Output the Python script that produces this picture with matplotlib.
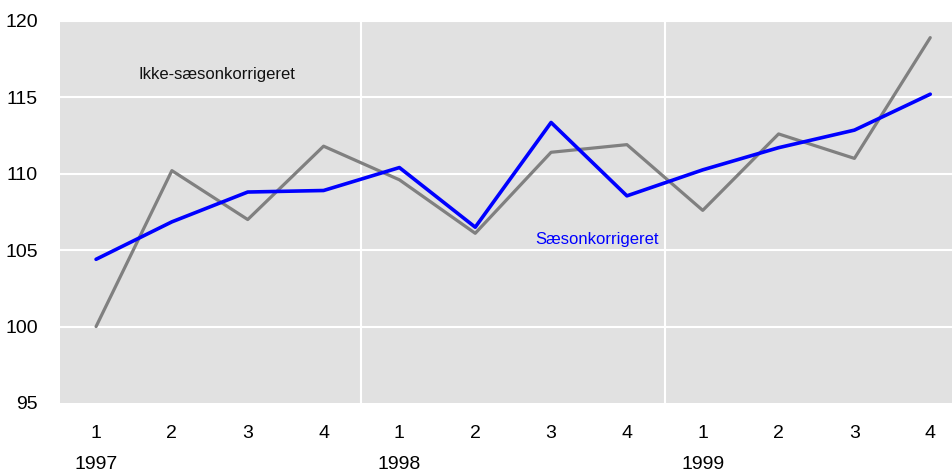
import matplotlib.pyplot as plt
from matplotlib import font_manager

# data
quarters = ['1', '2', '3', '4'] * 3
years = ['1997', '1998', '1999']
ikke_saeson = [100.0, 110.2, 107.0, 111.8, 109.6, 106.1, 111.4, 111.9, 107.6, 112.6, 111.0, 118.9]
saeson = [104.4, 106.85, 108.8, 108.9, 110.4, 106.5, 113.35, 108.55, 110.25, 111.7, 112.85, 115.2]

names = {f.name for f in font_manager.fontManager.ttflist}
fam = 'Liberation Sans Narrow' if 'Liberation Sans Narrow' in names else 'Liberation Sans'
plt.rcParams['font.family'] = [fam, 'DejaVu Sans']

fig = plt.figure(figsize=(9.53, 4.73), dpi=100)
ax = fig.add_axes([0.063, 0.148, 0.937, 0.808])
ax.set_facecolor('#e1e1e1')

x = list(range(len(quarters)))
ax.plot(x, ikke_saeson, color='#808080', lw=2.3, solid_capstyle='round', zorder=3)
ax.plot(x, saeson, color='#0000ff', lw=2.6, solid_capstyle='round', zorder=4)

ax.set_xlim(-0.475, 11.3)
ax.set_ylim(95, 120)
ax.set_yticks([95, 100, 105, 110, 115, 120])
ax.set_xticks(x)
ax.set_xticklabels(quarters)
ax.tick_params(length=0, labelsize=14)
ax.tick_params(axis='x', pad=16)
ax.tick_params(axis='y', pad=16)

for yv in [100, 105, 110, 115, 120]:
    ax.axhline(yv, color='white', lw=1.5, zorder=1)
for xv in [3.5, 7.5]:
    ax.axvline(xv, color='white', lw=1.5, zorder=1)
for s in ax.spines.values():
    s.set_visible(False)

for i, yr in enumerate(years):
    ax.text(i * 4, -0.162, yr, transform=ax.get_xaxis_transform(),
            ha='center', va='center', fontsize=14)

ax.text(1.6, 116.5, 'Ikke-sæsonkorrigeret', ha='center', va='center', fontsize=12, color='#111111')
ax.text(6.6, 105.7, 'Sæsonkorrigeret', ha='center', va='center', fontsize=12, color='#0000ff')

fig.savefig('out.png', dpi=100)
